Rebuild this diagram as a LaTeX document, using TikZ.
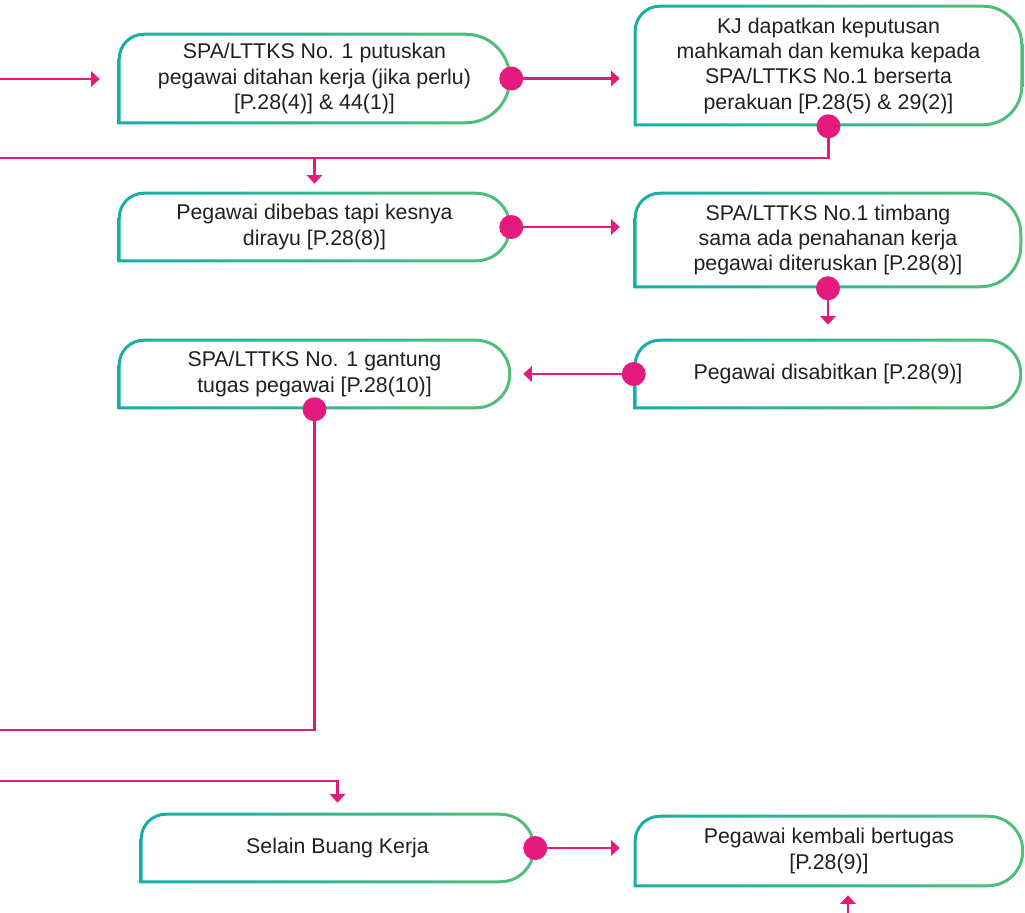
\documentclass[tikz,border=0pt]{standalone}
\usepackage{fontspec}
\setmainfont{Liberation Sans}
\usetikzlibrary{arrows.meta,calc}

\definecolor{cellteal}{RGB}{22,174,166}
\definecolor{cellgreen}{RGB}{82,190,120}
\definecolor{celltext}{RGB}{35,31,32}
\definecolor{linkpink}{RGB}{228,26,127}

% outline of a box: teal to green, square lower left corner, round right end
\newcommand\celloutline[2]{%
  \shade[left color=cellteal, right color=cellgreen, even odd rule]
    let \p1=(#1.north west), \p2=(#1.south east) in
    (\x1,\y2) -- (\x1,\y1-19.5pt) arc[start angle=180,end angle=90,radius=19.5pt]
    -- (\x2-#2,\y1) arc[start angle=90,end angle=0,radius=#2]
    -- (\x2,\y2+#2) arc[start angle=0,end angle=-90,radius=#2] -- cycle
    (\x1+2.25pt,\y2+2.25pt) -- (\x1+2.25pt,\y1-19.5pt) arc[start angle=180,end angle=90,radius=17.25pt]
    -- (\x2-#2,\y1-2.25pt) arc[start angle=90,end angle=0,radius=#2-2.25pt]
    -- (\x2-2.25pt,\y2+#2) arc[start angle=0,end angle=-90,radius=#2-2.25pt] -- cycle;
}

\begin{document}
\begin{tikzpicture}[
		x=0.75pt, y=-0.75pt,
		cell/.style={rectangle, inner sep=0pt, align=center, text=celltext, font=\fontsize{16}{19}\selectfont},
		link/.style={draw=linkpink, line width=2pt},
		>={Triangle[length=6.5pt,width=11.5pt]}
		]
		\useasboundingbox (0,0) rectangle (1025,913);

		\node[cell, minimum width=294.75pt, minimum height=68.25pt] (b1) at (314.5,78.5)
			{SPA/LTTKS No. 1 putuskan\\pegawai ditahan kerja (jika perlu)\\{[P.28(4)] \& 44(1)]}};
		\node[cell, minimum width=291.75pt, minimum height=90.75pt] (b2) at (828.5,65.5)
			{KJ dapatkan keputusan\\mahkamah dan kemuka kepada\\SPA/LTTKS No.1 berserta\\perakuan [P.28(5) \& 29(2)]};
		\node[cell, minimum width=294.75pt, minimum height=52.5pt] (b3) at (314.5,227)
			{Pegawai dibebas tapi kesnya\\dirayu [P.28(8)]};
		\node[cell, minimum width=291pt, minimum height=72pt] (b4) at (828,240)
			{SPA/LTTKS No.1 timbang\\sama ada penahanan kerja\\pegawai diteruskan [P.28(8)]};
		\node[cell, minimum width=291pt, minimum height=52.5pt] (b5) at (828,374)
			{Pegawai disabitkan [P.28(9)]};
		\node[cell, minimum width=294.75pt, minimum height=52.5pt] (b6) at (314.5,374)
			{SPA/LTTKS No. 1 gantung\\tugas pegawai [P.28(10)]};
		\node[cell, minimum width=296.25pt, minimum height=52.5pt] (b7) at (337.5,848)
			{Selain Buang Kerja};
		\node[cell, minimum width=292.5pt, minimum height=54pt] (b8) at (829,851)
			{Pegawai kembali bertugas\\{[P.28(9)]}};

		\celloutline{b1}{34pt}
		\celloutline{b2}{30pt}
		\celloutline{b3}{26.25pt}
		\celloutline{b4}{31.5pt}
		\celloutline{b5}{26.25pt}
		\celloutline{b6}{26.25pt}
		\celloutline{b7}{26.25pt}
		\celloutline{b8}{27pt}

		\coordinate (in1) at (0,79);
		\coordinate (out1) at (0,158);
		\coordinate (out2) at (0,730);
		\coordinate (in2) at (0,781);
		\coordinate (in3) at (848,913);

		\draw[link, ->, shorten >=13.5pt] (in1) -- (in1 -| b1.west);
		\draw[link, ->, shorten >=10.5pt] (b1.east) -- (b1.east -| b2.west);
		\draw[link] (b2.south) |- (out1);
		\draw[link, ->, shorten >=6pt] (b3.north |- out1) -- (b3.north);
		\draw[link, ->, shorten >=10.5pt] (b3.east) -- (b3.east -| b4.west);
		\draw[link, ->, shorten >=10.5pt] (b4.south) -- (b4.south |- b5.north);
		\draw[link, ->, shorten >=9pt] (b5.west) -- (b5.west -| b6.east);
		\draw[link] (b6.south) |- (out2);
		\draw[link, ->, shorten >=7.5pt] (in2) -| (b7.north);
		\draw[link, ->, shorten >=10.5pt] (b7.east) -- (b7.east -| b8.west);
		\draw[link, ->, shorten >=6pt] (in3) -- (in3 |- b8.south);

		\foreach \a in {b1.east, b2.south, b3.east, b4.south, b5.west, b6.south, b7.east}
			\fill[linkpink] (\a) circle[radius=9pt];
\end{tikzpicture}
\end{document}
